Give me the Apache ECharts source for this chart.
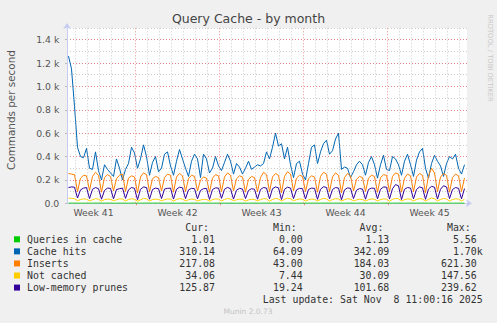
<!DOCTYPE html>
<html><head><meta charset="utf-8">
<script src="https://cdn.jsdelivr.net/npm/echarts@6/dist/echarts.min.js"></script>
<style>html,body{margin:0;padding:0;background:#f0f0f0;}#c{width:497px;height:323px;}</style>
</head><body><div id="c"></div>
<script>
// ---- data ----
const seriesNames = ['Queries in cache','Cache hits','Inserts','Not cached','Low-memory prunes'];
const seriesColors = ['#00cc00','#0066b3','#ff8000','#ffcc00','#330099'];
const weekLabels = ['Week 41','Week 42','Week 43','Week 44','Week 45'];

// time model: 400 two-hour slots; main series sampled every 6 h (3 slots) from slot 1,
// queries-in-cache sampled daily (12 slots) from slot 1
const SLOT_COUNT = 400, SAMPLE_START = 1, SAMPLE_STEP = 3, DAILY_STEP = 12;
const WEEK42_SLOT = 69, WEEK_SLOTS = 84, DAY_SLOTS = 12;

const queriesInCache = [1.2,0.9,1.1,1.3,0.8,1.0,1.2,1.4,1.1,0.9,1.0,1.3,1.2,1.1,0.8,1.0,1.2,1.5,1.1,0.9,1.0,1.3,1.2,1.1,1.0,1.2,1.4,1.1,1.0,1.3,1.2,1.1,1.0,1.0];

const cacheHits = [1260,1150,830,480, 400,390,470,300, 290,440,280,200, 330,290,260,230, 380,300,200,290,
 340,480,430,300, 380,500,400,240, 350,400,270,300, 420,440,320,240, 360,460,380,300,
 230,360,420,380, 220,420,380,260, 300,400,320,280, 350,420,360,250, 340,310,250,300,
 360,290,310,330, 320,340,440,380, 480,600,490,510, 380,480,330,220, 340,360,250,200,
 340,480,500,340, 440,510,540,420, 450,550,600,290, 310,300,220,270, 330,360,330,240,
 350,400,330,215, 330,410,290,280, 400,380,330,240, 360,420,330,230, 370,440,470,300,
 215,340,410,360, 320,230,340,400, 380,420,300,250, 330];

const inserts = [255,250,245,
 100,215,240,235, 110,230,265,240, 95,220,245,230, 105,210,240,250, 100,215,235,225,
 90,225,260,245, 100,210,230,220, 105,220,250,240, 95,225,255,235, 100,210,240,230,
 105,200,225,215, 95,215,245,235, 100,225,260,240, 105,210,235,225, 95,205,230,220,
 100,220,265,245, 100,225,255,240, 90,230,270,250, 105,215,240,230, 100,210,235,225,
 95,230,265,250, 100,225,260,240, 90,220,255,235, 105,205,230,220, 100,215,240,230,
 95,220,245,240, 100,230,260,250, 95,215,250,235, 100,225,255,240, 90,235,300,260,
 100,225,255,240, 95,220,250,235, 100,217];

const notCached = [45,42,40,
 22,32,38,36, 20,30,40,35, 18,32,36,34, 22,30,38,37, 20,33,39,35,
 18,30,42,38, 20,32,36,33, 22,31,37,36, 19,33,40,36, 21,30,36,34,
 20,28,34,33, 18,31,38,36, 20,33,41,37, 22,30,36,34, 19,29,35,33,
 20,32,40,38, 18,33,42,37, 20,34,44,39, 22,31,37,35, 19,30,36,34,
 20,33,42,38, 18,32,40,37, 20,31,39,36, 21,29,35,33, 19,31,37,35,
 20,32,38,36, 18,34,42,39, 20,31,38,35, 21,33,40,37, 19,34,45,40,
 20,33,41,38, 18,32,39,36, 20,34];

const lowMemPrunes = [135,140,138,
 45,115,130,135, 40,120,135,125, 35,110,130,128, 38,118,125,130, 42,115,135,128,
 30,120,140,135, 35,118,130,125, 40,122,128,130, 36,120,138,132, 40,115,128,125,
 38,110,125,128, 33,118,132,130, 42,120,136,125, 36,112,128,122, 40,110,125,120,
 35,118,135,130, 38,125,140,132, 32,120,138,130, 40,115,128,125, 36,118,130,128,
 34,120,142,135, 38,118,135,130, 30,115,132,128, 40,112,126,122, 35,118,130,128,
 38,120,140,138, 36,125,160,150, 32,120,135,130, 38,118,140,132, 34,122,145,138,
 36,120,150,140, 40,118,135,128, 38,126];

const curVals = [1.01, 310.14, 217.08, 34.06, 125.87];
const minVals = [0.00, 64.09, 43.00, 7.44, 19.24];
const avgVals = [1.13, 342.09, 184.03, 30.09, 101.68];
const maxVals = [5.56, 1700, 621.30, 147.56, 239.62];
const colHeaders = ['Cur:','Min:','Avg:','Max:'];
const lastUpdate = 'Last update: Sat Nov  8 11:00:16 2025';
const footer = 'Munin 2.0.73';

// ---- build ----
const slots = Array.from({length: SLOT_COUNT}, (_, i) => String(i));
const toPairs = (arr, start, step) => arr.map((v, i) => [start + i * step, v]);
const seriesData = [
  toPairs(queriesInCache, SAMPLE_START, DAILY_STEP),
  toPairs(cacheHits, SAMPLE_START, SAMPLE_STEP),
  toPairs(inserts, SAMPLE_START, SAMPLE_STEP),
  toPairs(notCached, SAMPLE_START, SAMPLE_STEP),
  toPairs(lowMemPrunes, SAMPLE_START, SAMPLE_STEP)
];
const mod = (a, b) => ((a % b) + b) % b;
const isWeekStart = i => mod(i - WEEK42_SLOT, WEEK_SLOTS) === 0;
const labelSlot = i => WEEK42_SLOT - WEEK_SLOTS / 2 - 1 + WEEK_SLOTS * i;
const labelIndex = slot => weekLabels.findIndex((_, i) => labelSlot(i) === slot);

const SANS = '"DejaVu Sans", sans-serif';
const MONO = '"DejaVu Sans Mono", monospace';
const AXIS_COLOR = '#c6cbf2';
const MAJOR = 'rgba(240,110,110,0.75)';
const MINOR = 'rgba(170,170,170,0.6)';

// vertical grid lines at day / week boundaries (marked at the slot just before the boundary)
const gridLines = [];
for (let b = mod(WEEK42_SLOT, DAY_SLOTS); b < SLOT_COUNT; b += DAY_SLOTS) {
  gridLines.push({xAxis: b - 1, lineStyle: {color: isWeekStart(b) ? MAJOR : MINOR, type: [1, 2], width: 1}});
}

const chart = echarts.init(document.getElementById('c'), null, {renderer: 'svg'});

const fmt = v => v >= 1000 ? (v / 1000).toFixed(2) + 'k' : v.toFixed(2);
const CHAR_W = 5.97;
const colRight = [215, 302.7, 389.3, 476.7];
const rowY = i => 239.3 + 12.07 * i;
const graphics = [];
[curVals, minVals, avgVals, maxVals].forEach((col, c) => {
  graphics.push({type: 'text', x: colRight[c] - CHAR_W, y: 227.3,
    style: {text: colHeaders[c], font: '9.9px ' + MONO, fill: '#333', align: 'right', verticalAlign: 'middle'}});
  col.forEach((v, r) => {
    graphics.push({type: 'text', x: colRight[c] + (v >= 1000 ? CHAR_W : 0), y: rowY(r),
      style: {text: fmt(v), font: '9.9px ' + MONO, fill: '#333', align: 'right', verticalAlign: 'middle'}});
  });
});
graphics.push({type: 'text', x: 482.7, y: 299.7,
  style: {text: lastUpdate, font: '9.9px ' + MONO, fill: '#333', align: 'right', verticalAlign: 'middle'}});
graphics.push({type: 'text', x: 248, y: 311.7,
  style: {text: footer, font: '7.5px ' + SANS, fill: '#c4c4c4', align: 'center', verticalAlign: 'middle'}});
graphics.push({type: 'text', x: 11, y: 110, rotation: Math.PI / 2,
  style: {text: 'Commands per second', font: '10.4px ' + SANS, fill: '#555', align: 'center', verticalAlign: 'middle'}});
graphics.push({type: 'text', x: 490, y: 58, rotation: -Math.PI / 2,
  style: {text: 'RRDTOOL / TOBI OETIKER', font: '6.8px ' + SANS, fill: '#c8c8c8', align: 'center', verticalAlign: 'middle'}});

chart.setOption({
  animation: false,
  backgroundColor: '#f0f0f0',
  title: {text: 'Query Cache - by month', left: 'center', top: 12, padding: 0,
    textStyle: {fontFamily: SANS, fontSize: 12.5, fontWeight: 'normal', color: '#444'}},
  legend: {orient: 'vertical', left: 14, top: 233.3, padding: 0, itemWidth: 6, itemHeight: 6, itemGap: 0.07,
    icon: 'rect', selectedMode: false, itemStyle: {borderWidth: 0},
    textStyle: {fontFamily: MONO, fontSize: 9.9, color: '#333', lineHeight: 12, padding: [0, 0, 0, 2]},
    data: seriesNames},
  grid: {left: 67, top: 28, width: 400, height: 175.3, show: true, backgroundColor: '#ffffff', borderWidth: 0},
  xAxis: {
    type: 'category', data: slots, boundaryGap: true, position: 'bottom', z: 1,
    axisLine: {show: true, lineStyle: {color: AXIS_COLOR, width: 1}, symbol: ['none', 'arrow'], symbolSize: [6, 6], symbolOffset: [0, 5]},
    axisTick: {show: true, interval: isWeekStart, length: 2, lineStyle: {color: MAJOR}},
    axisLabel: {interval: i => labelIndex(i) >= 0, formatter: (v, i) => weekLabels[labelIndex(i)] || '',
      margin: 4.5, fontFamily: SANS, fontSize: 9.3, color: '#555'},
    splitLine: {show: false}
  },
  yAxis: [{
    type: 'value', min: 0, max: 1500, interval: 200, z: 1,
    axisLine: {show: true, lineStyle: {color: AXIS_COLOR, width: 1}, symbol: ['none', 'arrow'], symbolSize: [6, 6], symbolOffset: [0, 5]},
    axisTick: {show: true, length: 2, lineStyle: {color: '#bbb'}},
    axisLabel: {showMaxLabel: false, margin: 7.7, fontFamily: SANS, fontSize: 9.3, color: '#555',
      formatter: v => v === 0 ? '0.0' : (v / 1000).toFixed(1) + ' k'},
    splitLine: {show: true, showMinLine: false, showMaxLine: false, lineStyle: {color: MAJOR, type: [1, 2], width: 1}}
  }, {
    type: 'value', min: 0, max: 1500, interval: 100, z: 0,
    axisLine: {show: false}, axisTick: {show: false}, axisLabel: {show: false},
    splitLine: {show: true, showMinLine: false, lineStyle: {color: MINOR, type: [1, 2], width: 1}}
  }],
  series: seriesNames.map((name, s) => ({
    name, type: 'line', xAxisIndex: 0, yAxisIndex: 0, data: seriesData[s],
    color: seriesColors[s], showSymbol: false, symbol: 'none',
    lineStyle: {width: 1, color: seriesColors[s]}, z: 2 + s,
    markLine: s === 0 ? {silent: true, symbol: ['none', 'none'], label: {show: false}, animation: false,
      emphasis: {disabled: true}, data: gridLines} : undefined
  })),
  graphic: graphics
});
</script></body></html>
